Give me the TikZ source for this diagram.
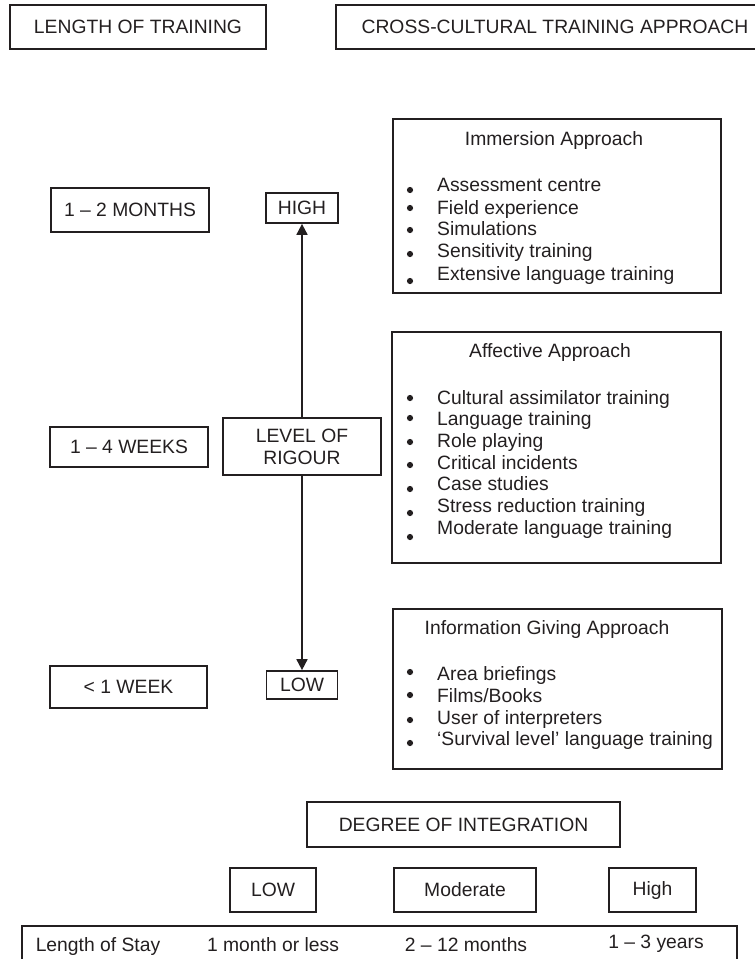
\documentclass[tikz,border=0pt]{standalone}
\usepackage{fontspec}
\setmainfont{Liberation Sans}
\usetikzlibrary{arrows.meta}
\definecolor{ink}{RGB}{35,31,32}
\begin{document}
\begin{tikzpicture}[x=1pt,y=-1pt,
  every node/.style={font=\fontsize{19.3pt}{22pt}\selectfont, text=ink},
  box/.style={draw=ink, line width=1.7pt, inner sep=0pt},
  item/.style={anchor=base west, inner sep=0pt},
  title/.style={anchor=base, inner sep=0pt},
  dot/.style={circle, fill=ink, inner sep=0pt, minimum size=6.2pt},
  axis/.style={draw=ink, line width=1.7pt, -{Triangle[width=11pt,length=11pt]}}
]
\useasboundingbox (0,0) rectangle (755,959);

% column headings
\node[box, minimum width=256pt, minimum height=44pt] (lot) at (138,27) {LENGTH OF TRAINING};
\node[box, minimum width=424pt, minimum height=44pt] (cct) at (548,27) {};
\node at ([xshift=7pt]cct.center) (ccttext) {CROSS-CULTURAL TRAINING APPROACH};

% length of training
\node[box, minimum width=158pt, minimum height=44pt] (m12) at (130,210) {1 -- 2 MONTHS};
\node[box, minimum width=158pt, minimum height=40pt] (w14) at (129,447) {1 -- 4 WEEKS};
\node[box, minimum width=157pt, minimum height=42pt] (w1)  at (128.5,687) {< 1 WEEK};

% level of rigour axis
\node[box, minimum width=72pt, minimum height=30pt] (high) at (302,208) {HIGH};
\node[box, minimum width=158pt, minimum height=57pt, align=center] (rig) at (302,446.5) {LEVEL OF\\RIGOUR};
\node[box, minimum width=71pt, minimum height=28pt] (low) at (302,685) {LOW};
\draw[axis] (rig) -- (high);
\draw[axis] (rig) -- (low);

% immersion approach
\node[box, minimum width=328pt, minimum height=174pt] (imm) at (557,206) {};
\node[title] (immt) at (554,145) {Immersion Approach};
\node[item] (imm1) at (437,191) {Assessment centre};
\node[item] (imm2) at (437,214) {Field experience};
\node[item] (imm3) at (437,235) {Simulations};
\node[item] (imm4) at (437,257) {Sensitivity training};
\node[item] (imm5) at (437,280) {Extensive language training};
\foreach \y [count=\i] in {190,208,230,254,281}
  \node[dot] (immb\i) at (410,\y) {};

% affective approach
\node[box, minimum width=329pt, minimum height=231pt] (aff) at (556.5,447.5) {};
\node[title] (afft) at (550,357) {Affective Approach};
\node[item] (aff1) at (437,404) {Cultural assimilator training};
\node[item] (aff2) at (437,425) {Language training};
\node[item] (aff3) at (437,447) {Role playing};
\node[item] (aff4) at (437,469) {Critical incidents};
\node[item] (aff5) at (437,490) {Case studies};
\node[item] (aff6) at (437,512) {Stress reduction training};
\node[item] (aff7) at (437,534) {Moderate language training};
\foreach \y [count=\i] in {398,418,442,465,489,513,537}
  \node[dot] (affb\i) at (410,\y) {};

% information giving approach
\node[box, minimum width=329pt, minimum height=160pt] (inf) at (557.5,689) {};
\node[title] (inft) at (547,634) {Information Giving Approach};
\node[item] (inf1) at (437,680) {Area briefings};
\node[item] (inf2) at (437,702) {Films/Books};
\node[item] (inf3) at (437,724) {User of interpreters};
\node[item] (inf4) at (437,745) {‘Survival level’ language training};
\foreach \y [count=\i] in {672,695,720,743}
  \node[dot] (infb\i) at (410,\y) {};

% degree of integration
\node[box, minimum width=313pt, minimum height=45pt] (deg) at (463.5,824.5) {DEGREE OF INTEGRATION};
\node[box, minimum width=86pt, minimum height=44pt] (dlow) at (273,890) {LOW};
\node[box, minimum width=142pt, minimum height=44pt] (dmod) at (465,890) {Moderate};
\node[box, minimum width=87pt, minimum height=44pt] (dhigh) at (652.5,890) {High};

% length of stay
\node[box, minimum width=715pt, minimum height=44pt] (stay) at (379.5,948) {};
\node[title] (stay0) at (98,951) {Length of Stay};
\node[title] (stay1) at (273,951) {1 month or less};
\node[title] (stay2) at (466,951) {2 -- 12 months};
\node[title] (stay3) at (656,948) {1 -- 3 years};
\end{tikzpicture}
\end{document}
